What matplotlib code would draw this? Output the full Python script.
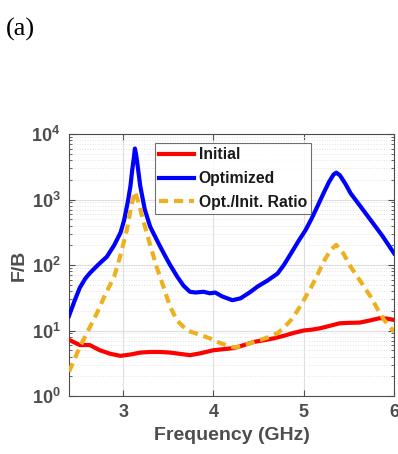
import matplotlib
matplotlib.use("Agg")
import matplotlib.pyplot as plt
from matplotlib.ticker import LogLocator, FixedLocator, NullFormatter

# Data
f_init = [2.40, 2.52, 2.63, 2.74, 2.86, 2.97, 3.08, 3.19, 3.30, 3.41, 3.52, 3.63, 3.74, 3.86, 4.00, 4.12, 4.23, 4.34, 4.45, 4.56, 4.67, 4.78, 4.89, 5.00, 5.09, 5.18, 5.29, 5.40, 5.51, 5.62, 5.73, 5.84, 5.92, 6.00]
v_init = [7.2, 6.0, 6.0, 5.0, 4.4, 4.1, 4.3, 4.6, 4.7, 4.7, 4.6, 4.4, 4.2, 4.5, 5.0, 5.2, 5.4, 6.0, 6.7, 7.1, 7.6, 8.3, 9.2, 10.0, 10.3, 10.8, 11.8, 12.9, 13.1, 13.2, 14.2, 15.4, 15.2, 14.5]

f_opt = [2.40, 2.46, 2.52, 2.58, 2.63, 2.72, 2.82, 2.90, 2.97, 3.01, 3.05, 3.08, 3.10, 3.12, 3.13, 3.145, 3.16, 3.19, 3.24, 3.30, 3.38, 3.45, 3.52, 3.60, 3.67, 3.74, 3.80, 3.89, 3.96, 4.02, 4.10, 4.21, 4.30, 4.40, 4.49, 4.60, 4.71, 4.78, 4.86, 4.94, 5.02, 5.09, 5.15, 5.22, 5.28, 5.33, 5.36, 5.40, 5.46, 5.52, 5.63, 5.74, 5.87, 6.00]
v_opt = [16.7, 28, 45, 62, 75, 100, 134, 200, 310, 480, 900, 1580, 2800, 4500, 6000, 4700, 3300, 1580, 700, 382, 230, 150, 100, 66, 48, 39, 38, 39, 37, 38, 33, 29, 31, 38, 47, 58, 74, 100, 151, 230, 340, 520, 776, 1250, 1850, 2400, 2570, 2350, 1750, 1240, 780, 488, 280, 151]

f_ratio = [2.40, 2.52, 2.62, 2.71, 2.80, 2.90, 2.97, 3.04, 3.09, 3.13, 3.17, 3.22, 3.30, 3.37, 3.45, 3.52, 3.60, 3.71, 3.86, 3.96, 4.04, 4.14, 4.23, 4.32, 4.42, 4.52, 4.62, 4.71, 4.78, 4.86, 4.93, 5.00, 5.08, 5.15, 5.23, 5.30, 5.36, 5.44, 5.52, 5.63, 5.74, 5.82, 5.89, 6.00]
v_ratio = [2.35, 5.6, 10.5, 18.5, 35, 66, 140, 340, 800, 1320, 900, 490, 200, 94, 45, 23, 14, 10, 8.5, 7.6, 6.7, 6.0, 5.5, 5.8, 6.5, 7.2, 8.0, 9.1, 11.0, 14.5, 20, 29, 45, 70, 119, 170, 203, 150, 94, 56, 33, 21, 14.5, 9.6]

xticks = [3, 4, 5, 6]
yticks = [1, 10, 100, 1000, 10000]
ytick_labels = [r'$\mathbf{10^{%d}}$' % i for i in range(5)]

gray = '#4d4d4d'
plt.rcParams['font.family'] = ['Liberation Sans', 'DejaVu Sans']
plt.rcParams['mathtext.fontset'] = 'custom'
plt.rcParams['mathtext.bf'] = 'Liberation Sans:bold'
plt.rcParams['mathtext.rm'] = 'Liberation Sans'

fig = plt.figure(figsize=(3.98, 4.54), dpi=100)
ax = fig.add_axes([69/398, 1-396/454, (394-69)/398, (396-134)/454])

ax.plot(f_init, v_init, color=(1, 0, 0), lw=3, label='Initial', zorder=3)
ax.plot(f_opt, v_opt, color=(0, 0, 1), lw=3, label='Optimized', zorder=4)
ax.plot(f_ratio, v_ratio, color=(0.929, 0.694, 0.125), lw=3, ls=(0, (2.2, 1.4)), label='Opt./Init. Ratio', zorder=5)

ax.set_yscale('log')
ax.set_xlim(2.4, 6)
ax.set_ylim(1, 10000)
ax.xaxis.set_major_locator(FixedLocator(xticks))
ax.yaxis.set_major_locator(FixedLocator(yticks))
ax.set_yticklabels(ytick_labels)
ax.set_xticklabels([str(t) for t in xticks])
ax.yaxis.set_minor_locator(LogLocator(base=10, subs=range(2, 10), numticks=20))
ax.yaxis.set_minor_formatter(NullFormatter())

ax.grid(True, which='major', color='#dedede', lw=0.8, zorder=0)
ax.grid(True, which='minor', axis='y', color='#e3e3e3', lw=0.7, ls=':', zorder=0)
ax.set_axisbelow(True)

ax.tick_params(which='both', direction='in', top=True, right=True, colors=gray, labelcolor=gray)
ax.tick_params(which='major', length=4, labelsize=13, pad=6)
ax.tick_params(which='minor', length=2)
for lab in ax.get_xticklabels() + ax.get_yticklabels():
    lab.set_fontweight('bold')
for sp in ax.spines.values():
    sp.set_color(gray)
    sp.set_linewidth(0.8)

ax.set_xlabel('Frequency (GHz)', fontsize=14, fontweight='bold', color=gray, labelpad=4)
ax.set_ylabel('F/B', fontsize=14, fontweight='bold', color=gray, labelpad=3)

leg = ax.legend(loc='upper left', bbox_to_anchor=((155-69)/325, 1-(143-134)/262),
                prop={'weight': 'bold', 'size': 11.3}, frameon=True, fancybox=False,
                handlelength=2.2, borderpad=0.28, labelspacing=0.55, handletextpad=0.3, borderaxespad=0)
leg.get_frame().set_edgecolor(gray)
leg.get_frame().set_linewidth(0.8)
for t in leg.get_texts():
    t.set_color('#1a1a1a')

fig.text(6/398, 1-36/454, '(a)', fontsize=19, family='Liberation Serif', color='black')

fig.savefig('out.png', dpi=100)
